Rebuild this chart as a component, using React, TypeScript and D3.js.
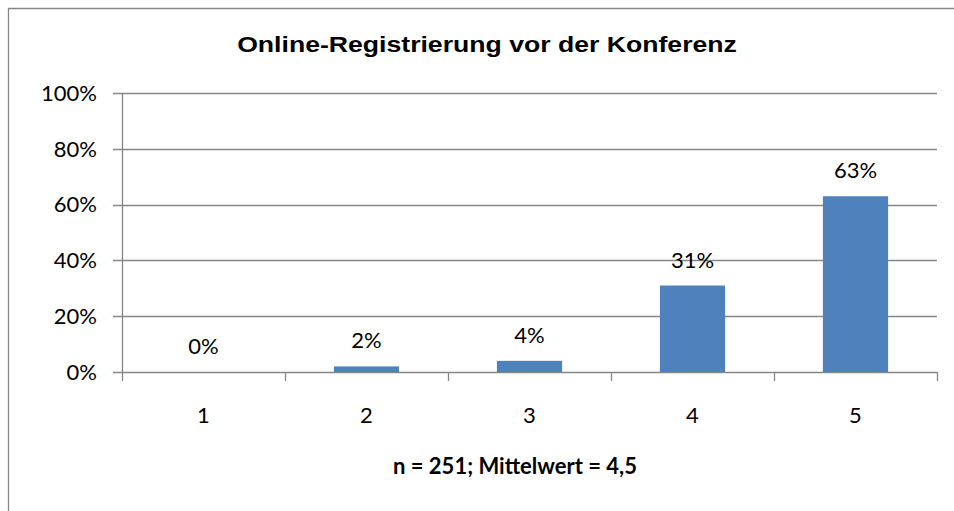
import * as React from "react";
import * as d3 from "d3";

const categories = ["1", "2", "3", "4", "5"];
const shares = [0, 2, 4, 31, 63];
const yTicks = [0, 20, 40, 60, 80, 100];
const title = "Online-Registrierung vor der Konferenz";
const xTitle = "n = 251; Mittelwert = 4,5";

export default function App() {
  const ref = React.useRef<SVGSVGElement>(null);

  React.useEffect(() => {
    const svg = d3.select(ref.current);
    svg.selectAll("*").remove();

    const g = svg.append("g");

    const left = 122, right = 937, top = 93, bottom = 372;
    const grey = "#868686";
    const labelFont = "Lato, 'Open Sans', sans-serif";

    // outer chart frame: only top and left edges are inside the window
    g.append("path")
      .attr("d", "M8.5,511V8.5H954")
      .attr("fill", "none")
      .attr("stroke", grey)
      .attr("stroke-width", 1.3);

    const x = d3.scaleBand<string>()
      .domain(categories)
      .range([left, right])
      .paddingInner(0.6)
      .paddingOuter(0.3);
    const step = x.step();

    const y = d3.scaleLinear().domain([0, 100]).range([bottom, top]);

    // gridlines + y ticks
    g.append("g").selectAll("line")
      .data(yTicks)
      .enter().append("line")
      .attr("x1", left - 9).attr("x2", right)
      .attr("y1", d => Math.round(y(d)) + 0.5)
      .attr("y2", d => Math.round(y(d)) + 0.5)
      .attr("stroke", grey)
      .attr("stroke-width", 1.3);

    g.append("g").selectAll("text")
      .data(yTicks)
      .enter().append("text")
      .attr("x", 97)
      .attr("y", d => y(d))
      .attr("dy", "0.35em")
      .attr("text-anchor", "end")
      .style("font-family", labelFont)
      .style("font-size", "22px")
      .text(d => d + "%");

    // bars
    g.append("g").selectAll("rect")
      .data(shares)
      .enter().append("rect")
      .attr("x", (d, i) => x(categories[i])!)
      .attr("y", d => y(d))
      .attr("width", x.bandwidth())
      .attr("height", d => bottom - y(d))
      .attr("fill", "#4F81BD");

    // data labels
    g.append("g").selectAll("text")
      .data(shares)
      .enter().append("text")
      .attr("x", (d, i) => x(categories[i])! + x.bandwidth() / 2)
      .attr("y", d => y(d) - 18)
      .attr("text-anchor", "middle")
      .style("font-family", labelFont)
      .style("font-size", "22px")
      .text(d => d + "%");

    // y axis line
    g.append("line")
      .attr("x1", left + 0.5).attr("x2", left + 0.5)
      .attr("y1", top).attr("y2", bottom)
      .attr("stroke", grey).attr("stroke-width", 1.3);

    // x axis ticks at category boundaries
    const bounds = d3.range(categories.length + 1).map(i => left + i * step);
    g.append("g").selectAll("line")
      .data(bounds)
      .enter().append("line")
      .attr("x1", d => Math.round(d) + 0.5).attr("x2", d => Math.round(d) + 0.5)
      .attr("y1", bottom).attr("y2", bottom + 9)
      .attr("stroke", grey).attr("stroke-width", 1.3);

    g.append("g").selectAll("text")
      .data(categories)
      .enter().append("text")
      .attr("x", d => x(d)! + x.bandwidth() / 2)
      .attr("y", 423)
      .attr("text-anchor", "middle")
      .style("font-family", labelFont)
      .style("font-size", "22px")
      .text(d => d);

    // titles (the source picture is stretched horizontally)
    g.append("text")
      .attr("transform", "translate(487,52) scale(1.21,1)")
      .attr("text-anchor", "middle")
      .style("font-family", "'Liberation Sans', Arial, sans-serif")
      .style("font-weight", "bold")
      .style("font-size", "22px")
      .text(title);

    g.append("text")
      .attr("x", 515).attr("y", 474)
      .attr("text-anchor", "middle")
      .style("font-family", labelFont)
      .style("font-weight", "bold")
      .style("font-size", "22px")
      .text(xTitle);
  }, []);

  return (
    <svg
      ref={ref}
      width={954}
      height={511}
      style={{ position: "absolute", left: 0, top: 0, display: "block" }}
    />
  );
}
